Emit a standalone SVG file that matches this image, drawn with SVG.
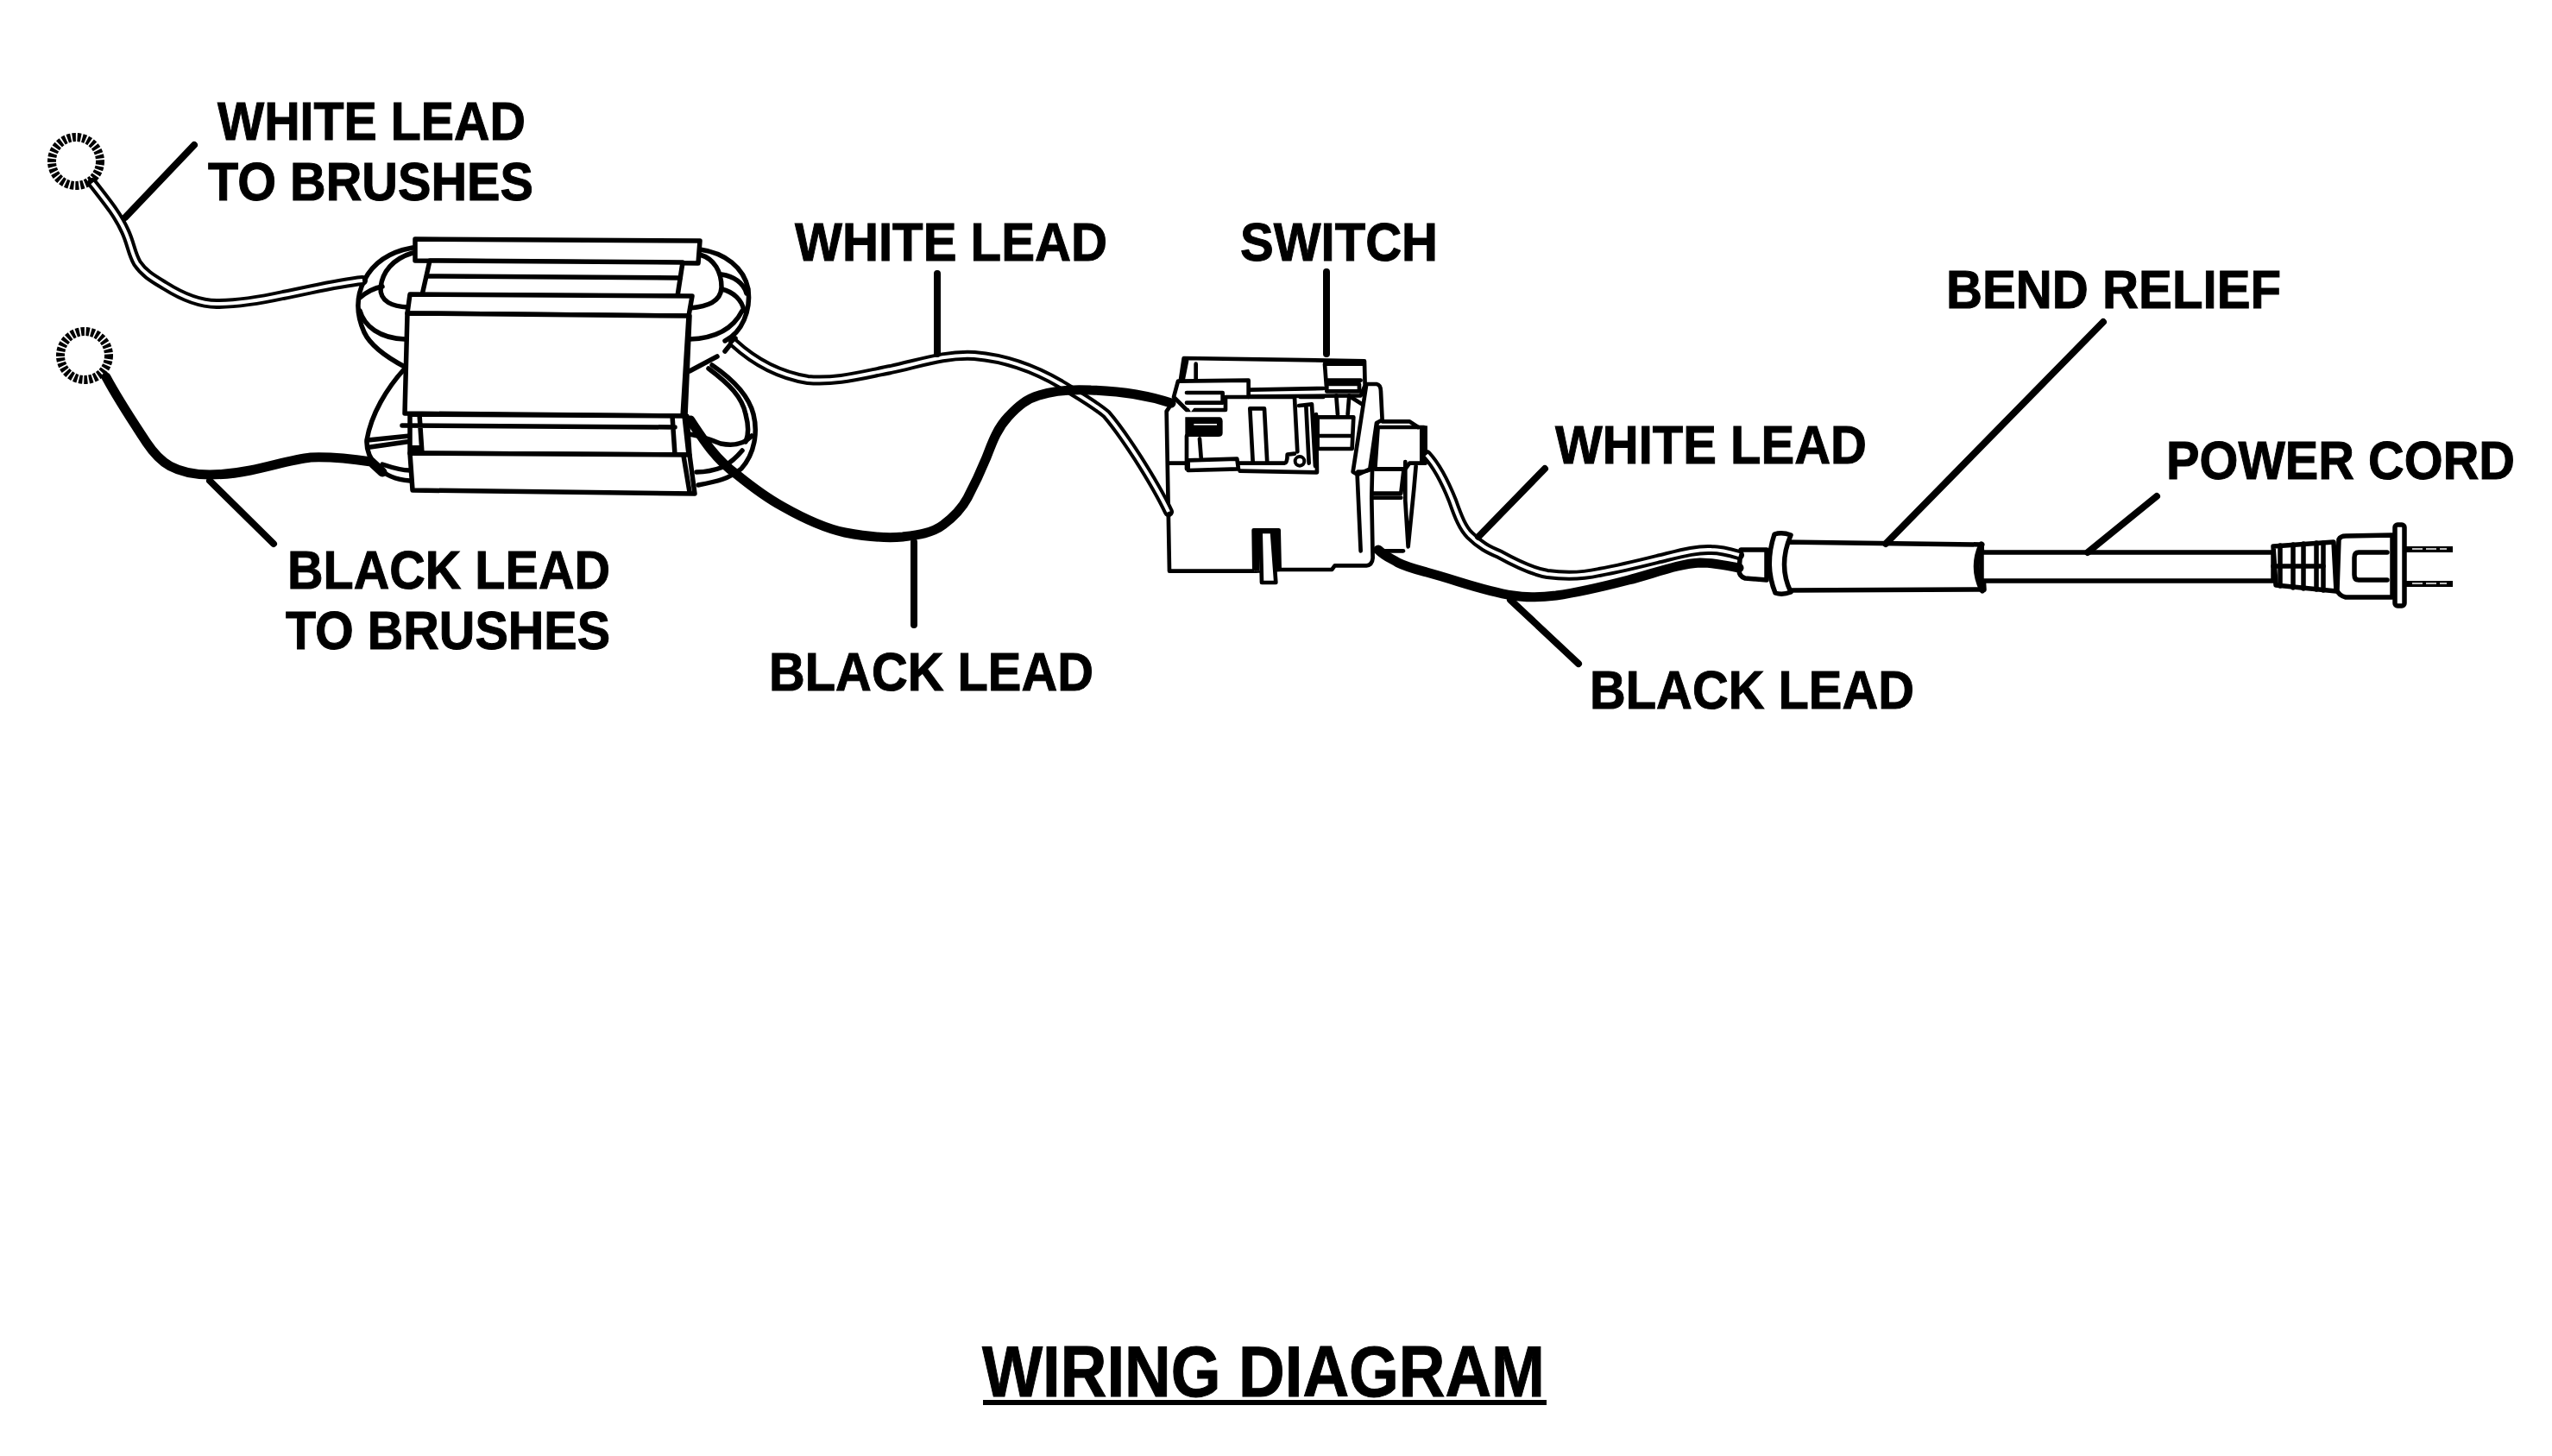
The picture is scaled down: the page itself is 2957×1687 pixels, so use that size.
<svg xmlns="http://www.w3.org/2000/svg" width="2957" height="1687" viewBox="0 0 2957 1687">
<style>
.l{fill:none;stroke:#000;stroke-width:5.5;stroke-linecap:round;stroke-linejoin:round}
.s{fill:#fff;stroke:#000;stroke-width:5.5;stroke-linejoin:round}
.sw{fill:none;stroke:#000;stroke-width:14;stroke-linecap:round;stroke-linejoin:round}
.swf{fill:#fff;stroke:#000;stroke-width:14;stroke-linejoin:round}
.wo{fill:none;stroke:#000;stroke-width:12;stroke-linecap:round;stroke-linejoin:round}
.wi{fill:none;stroke:#fff;stroke-width:4;stroke-linecap:butt;stroke-linejoin:round}
.bk{fill:none;stroke:#000;stroke-width:11;stroke-linecap:round;stroke-linejoin:round}
.ld{fill:none;stroke:#000;stroke-width:8;stroke-linecap:round}
.ring{fill:none;stroke:#000;stroke-width:10;stroke-dasharray:4 1.8}
text{font-family:"Liberation Sans",Arial,sans-serif;font-weight:700;font-size:63px;fill:#000;stroke:#000;stroke-width:1}
</style>
<rect width="2957" height="1687" fill="#fff"/>
<g id="ring-white"><circle class="ring" cx="88" cy="187" r="28"/></g>
<g id="ring-black"><circle class="ring" cx="98" cy="412" r="28"/></g>
<g id="coil">
<path class="l" d="M478,287C450,292 432,305 422,325C412,345 413,365 422,385C430,402 450,415 469,425"/>
<path class="l" d="M478,293C455,300 443,315 441,333C440,350 455,355 473,356"/>
<path class="l" d="M417,345C425,338 432,334 443,332M417,360C422,378 440,392 469,393"/>
<path class="l" d="M811,289C840,293 862,310 867,335C870,360 860,385 840,395"/>
<path class="l" d="M811,295C828,300 836,315 836,333C835,350 820,355 799,357"/>
<path class="l" d="M836,318C850,320 862,328 865,340M836,335C850,338 860,348 862,360M799,393C830,392 850,380 860,360"/>
<path class="l" d="M852,392L840,407M799,430L831,413"/>
<path class="l" d="M469,427C448,450 430,480 425,510C424,530 440,555 475,557"/>
<path class="l" d="M426,510L475,505M429,518L478,511M443,538C455,542 465,545 475,545"/>
<path class="l" d="M825,423C850,440 868,460 873,480C878,500 875,525 859,543C845,555 830,558 809,562"/>
<path class="l" d="M821,427C845,445 860,460 864,480C868,495 867,505 864,512"/>
<path class="l" d="M799,503C810,505 820,508 835,514C850,517 862,515 871,505M807,547C820,547 830,544 838,541C848,535 855,528 860,522"/>
<path class="s" d="M481,277L811,279L809,305L481,302Z"/>
<path class="s" d="M498,302L489,342L785,343L791,304Z"/>
<path class="l" d="M495,320L788,322"/>
<path class="s" d="M475,341L802,343L798,366L472,363Z"/>
<path class="s" d="M472,363L798,366L791,482L469,479Z"/>
<path class="l" d="M799,366L794,482"/>
<path class="s" d="M475,480L796,482L799,527L475,525Z"/>
<path class="l" d="M466,493L782,495M486,480L489,525M779,482L782,527M793,482L798,527"/>
<rect x="475" y="516" width="13" height="9" fill="#000"/>
<path class="s" d="M475,525L799,527L805,572L478,568Z"/>
<path class="l" d="M792,528L799,570"/>
</g>
<g id="switch" transform="translate(1300,380) scale(.3333)">
<path class="swf" d="M155,290L165,845L465,845L550,840L730,840L740,826L850,826Q870,825 872,800L868,590L870,500L890,300L780,230L195,230L155,290Z"/>
<path class="swf" d="M195,240L215,105L843,115L845,200L830,235L195,240Z"/>
<path class="sw" d="M225,115L212,180M257,125V180M160,470H225"/>
<path class="swf" d="M195,185L440,182V240L360,240V285L225,285L180,240L195,185Z"/>
<path class="sw" d="M225,225H350V260H225M445,215L700,210M440,240H600M600,240L610,430M620,240H700"/>
<path class="sw" d="M705,125L712,220M705,125H840M715,182H830M712,195H825V220H712Z"/>
<path class="sw" d="M615,270L660,265L672,480M640,270L650,470"/>
<path class="sw" d="M455,465L445,280H495L505,470"/>
<path d="M220,310H340Q350,312 350,325V365Q350,378 335,378H220Z" fill="#000"/>
<path d="M250,333H330V338H250Z" fill="#fff"/>
<path d="M228,272H255L240,292Z" fill="#fff"/>
<path class="sw" d="M225,375V490M270,385L275,450M230,460L400,455L405,490L230,495Z"/>
<path class="sw" d="M410,497L678,502L675,300M405,470H565Q575,470 575,440L600,437"/>
<circle cx="618" cy="463" r="16" fill="#fff" stroke="#000" stroke-width="12"/>
<path class="sw" d="M680,310H805L800,420H680ZM680,375H800M745,235L750,300M790,235L785,300"/>
<path class="swf" d="M850,195H885Q900,198 900,220L905,320L885,330L862,490L820,510L803,500Z"/>
<path class="sw" d="M818,510L830,775M865,490Q855,500 820,500"/>
<path class="swf" d="M890,345H1050L1055,470H1000L985,490H880Z"/>
<path d="M1035,340H1062V470H1035Z" fill="#000"/>
<path class="sw" d="M905,325H1000L1030,345M880,490H980L970,575H870M875,590H970"/>
<path class="sw" d="M985,465V600L995,760L1015,560L1022,480"/>
<path class="sw" d="M880,775H978"/>
<path class="swf" d="M460,845L458,703H545L548,840"/>
<path class="swf" d="M482,708L486,885H535L522,708Z"/>
<path d="M455,700H478V845H462ZM522,700H550V845H538Z" fill="#000"/>
</g>
<g id="plug">
<path class="s" d="M2017,637H2047V672L2022,670Q2015,668 2015,660Z"/>
<path class="s" d="M2067,628L2296,631L2299,683L2070,684Q2060,655 2067,628Z"/>
<path class="s" d="M2056,619Q2065,616 2075,620Q2060,655 2075,686Q2065,690 2057,687Q2044,655 2056,619Z"/>
<path class="s" d="M2296,640H2634V673H2296Z"/>
<path class="l" d="M2296,631Q2284,657 2297,684" style="stroke-width:7"/>
<path class="s" d="M2634,633L2704,628L2707,685L2637,678Z"/>
<path class="l" d="M2642,632V679M2657,631V681M2669,630V682M2684,629V683M2692,629V684"/>
<path class="l" d="M2634,656H2692"/>
<path class="s" d="M2710,625Q2712,621 2718,621L2772,620V692L2718,692Q2710,690 2708,684Z"/>
<path class="l" d="M2766,640H2733Q2728,640 2728,646V666Q2728,672 2733,672H2766"/>
<rect class="s" x="2775" y="608" width="11" height="94" rx="3"/>
<path d="M2786,633H2842V640H2786ZM2786,673H2842V680H2786Z" fill="#000"/>
<path d="M2795,636H2835M2795,676H2835" stroke="#fff" stroke-width="1.5" stroke-dasharray="12 4"/>
</g>
<g id="connectors">
<path class="wo" d="M107,212C125,235 137,250 145,268C152,283 152,293 159,305C167,317 178,323 191,331C210,343 232,352 251,352C278,352 305,347 328,342C360,336 390,328 420,325"/>
<path class="wi" d="M107,212C125,235 137,250 145,268C152,283 152,293 159,305C167,317 178,323 191,331C210,343 232,352 251,352C278,352 305,347 328,342C360,336 390,328 420,325"/>
<path class="wo" d="M850,397C875,420 905,435 936,440C970,443 1000,434 1032,428C1065,421 1095,410 1129,412C1165,415 1200,428 1229,445C1250,458 1268,468 1282,480C1295,495 1305,510 1318,530C1332,552 1344,572 1354,593"/>
<path class="wi" d="M850,397C875,420 905,435 936,440C970,443 1000,434 1032,428C1065,421 1095,410 1129,412C1165,415 1200,428 1229,445C1250,458 1268,468 1282,480C1295,495 1305,510 1318,530C1332,552 1344,572 1354,593"/>
<path class="wo" d="M1653,527C1665,540 1675,560 1683,580C1690,600 1695,612 1703,620C1715,632 1725,637 1737,642C1755,652 1775,662 1793,665C1815,668 1835,667 1853,663C1875,659 1900,653 1920,648C1945,642 1965,636 1983,637C1995,637 2005,640 2015,643"/>
<path class="wi" d="M1653,527C1665,540 1675,560 1683,580C1690,600 1695,612 1703,620C1715,632 1725,637 1737,642C1755,652 1775,662 1793,665C1815,668 1835,667 1853,663C1875,659 1900,653 1920,648C1945,642 1965,636 1983,637C1995,637 2005,640 2015,643"/>
<path class="bk" d="M123,437C138,465 155,490 170,513C178,525 188,535 197,540C210,547 228,550 243,550C260,550 275,548 290,545C315,540 340,532 360,530C385,529 410,532 430,535L443,547"/>
<path class="bk" d="M800,487C815,510 830,533 854,550C870,563 885,575 907,587C930,600 955,612 979,617C1000,621 1025,624 1046,622C1062,620 1080,618 1093,608C1105,599 1114,590 1121,577C1130,560 1136,547 1143,530C1150,512 1155,497 1168,483C1180,470 1190,462 1204,458C1222,452 1245,451 1264,452C1300,453 1330,458 1357,467"/>
<path class="bk" d="M1597,637C1605,645 1612,647 1620,652C1630,657 1642,660 1653,663C1690,673 1720,685 1753,690C1770,693 1785,692 1803,690C1832,686 1860,679 1887,672C1915,665 1945,653 1970,652C1985,652 2000,655 2015,658"/>
<path class="ld" d="M225,168L145,252M243,557L317,630M1086,317V410M1059,628V724M1537,315V410M1790,543L1713,622M1750,695L1829,769M2437,373L2185,630M2499,575L2419,640"/>
</g>
<g id="labels">
<text x="252" y="162" textLength="357" lengthAdjust="spacingAndGlyphs">WHITE LEAD</text>
<text x="241" y="232" textLength="377" lengthAdjust="spacingAndGlyphs">TO BRUSHES</text>
<text x="921" y="302" textLength="362" lengthAdjust="spacingAndGlyphs">WHITE LEAD</text>
<text x="1437" y="302" textLength="229" lengthAdjust="spacingAndGlyphs">SWITCH</text>
<text x="2255" y="357" textLength="388" lengthAdjust="spacingAndGlyphs">BEND RELIEF</text>
<text x="1802" y="537" textLength="361" lengthAdjust="spacingAndGlyphs">WHITE LEAD</text>
<text x="2510" y="555" textLength="404" lengthAdjust="spacingAndGlyphs">POWER CORD</text>
<text x="333" y="682" textLength="374" lengthAdjust="spacingAndGlyphs">BLACK LEAD</text>
<text x="331" y="752" textLength="376" lengthAdjust="spacingAndGlyphs">TO BRUSHES</text>
<text x="891" y="800" textLength="376" lengthAdjust="spacingAndGlyphs">BLACK LEAD</text>
<text x="1842" y="821" textLength="376" lengthAdjust="spacingAndGlyphs">BLACK LEAD</text>
<text x="1138" y="1618" textLength="652" lengthAdjust="spacingAndGlyphs" style="font-size:84px">WIRING DIAGRAM</text>
<path d="M1139,1625H1792" stroke="#000" stroke-width="6"/>
</g>
</svg>
